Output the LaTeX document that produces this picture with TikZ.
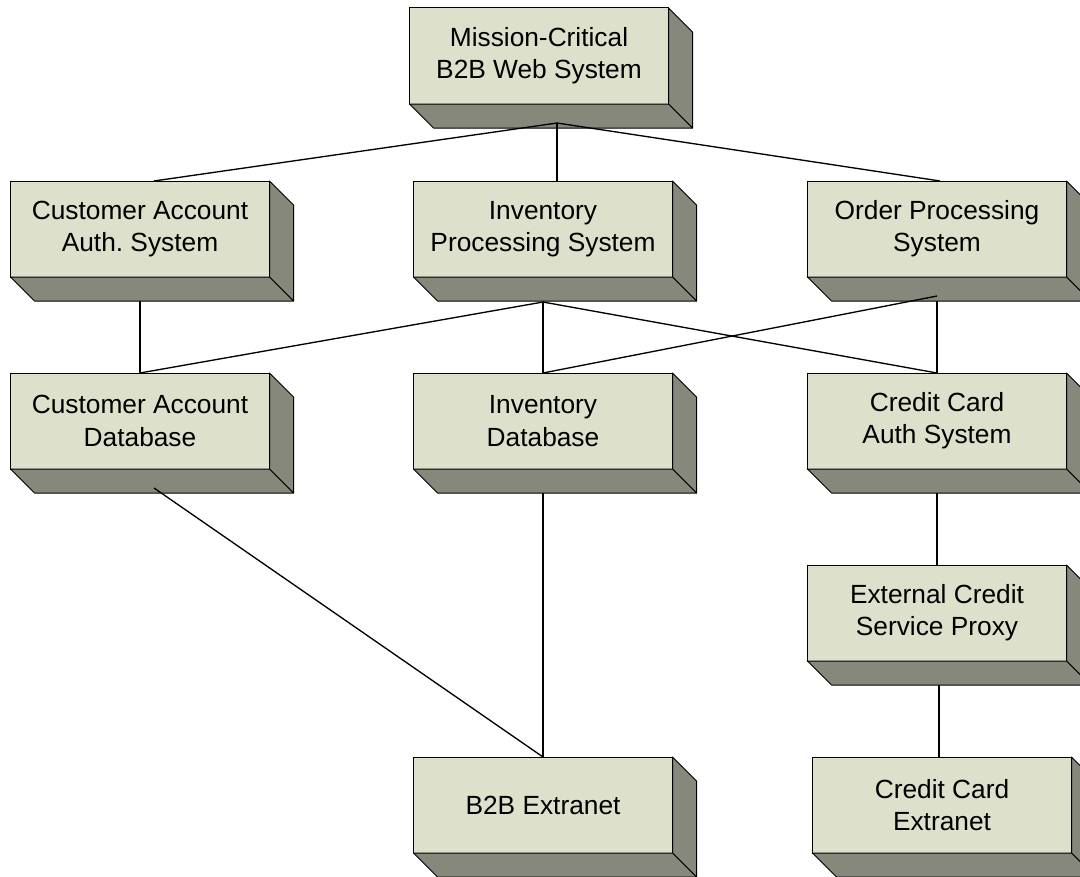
\documentclass[tikz,border=0pt]{standalone}
\usepackage{fontspec}
\setmainfont{Liberation Sans}
\usetikzlibrary{calc}

\definecolor{boxfront}{RGB}{221,224,203}
\definecolor{boxside}{RGB}{133,136,123}

\begin{document}
\begin{tikzpicture}[
            x=0.025cm, y=-0.025cm,
            every node/.style={ align=center, font=\fontsize{18.7}{23}\selectfont },
            block/.style={ draw, fill=boxfront, minimum width=6.475cm, minimum height=2.4cm,
                inner sep=0pt, outer sep=0pt, line width=0.7pt },
            side/.style={ draw, fill=boxside, line width=0.7pt, line join=round },
            link/.style={ line width=0.95pt }
        ]
        \useasboundingbox (0,0) rectangle (1080,876);

        % front faces
        \node[block] (web) at (539,56) {Mission-Critical\\B2B Web System};

        \node[block] (custauth) at (140,229) {Customer Account\\Auth.\ System};
        \node[block] (invproc) at (543,229) {Inventory\\Processing System};
        \node[block] (orderproc) at (937,229) {Order Processing\\System};

        \node[block] (custdb) at (140,421) {Customer Account\\Database};
        \node[block] (invdb) at (543,421) {Inventory\\Database};
        \node[block] (ccauth) at (937,421) {Credit Card\\Auth System};

        \node[block] (proxy) at (937,613) {External Credit\\Service Proxy};

        \node[block] (b2bext) at (543,805) {B2B Extranet};
        \node[block] (ccext) at (942,805) {Credit Card\\Extranet};

        % right and bottom faces
        \foreach \b in {web,custauth,invproc,orderproc,custdb,invdb,ccauth,proxy,b2bext,ccext} {
            \filldraw[side] (\b.north east) -- ++(24,24) -- ++(0,96) -- (\b.south east) -- cycle;
            \filldraw[side] (\b.south west) -- (\b.south east) -- ++(24,24) -- ++(-259,0) -- cycle;
        }

        % connectors
        \coordinate (webhub) at ($(web.south)+(18,19)$);
        \draw[link] (webhub) -- ($(custauth.north)+(14,0)$);
        \draw[link] (webhub) -- ($(invproc.north)+(14,0)$);
        \draw[link] (webhub) -- ($(orderproc.north)+(3,0)$);

        \draw[link] ($(custauth.south)+(0,24)$) -- (custauth.south |- custdb.north);

        \coordinate (invhub) at ($(invproc.south)+(0,25)$);
        \draw[link] (invhub) -- (custauth.south |- custdb.north);
        \draw[link] (invhub) -- (invdb.north);
        \draw[link] (invhub) -- (ccauth.north);

        \draw[link] ($(orderproc.south)+(0,19)$) -- (invdb.north);
        \draw[link] ($(orderproc.south)+(0,24)$) -- (ccauth.north);

        \draw[link] ($(custdb.south)+(14,19)$) -- (b2bext.north);
        \draw[link] ($(invdb.south)+(0,24)$) -- (b2bext.north);

        \draw[link] ($(ccauth.south)+(0,24)$) -- (proxy.north);
        \draw[link] ($(proxy.south)+(2,24)$) -- ($(ccext.north)+(-3,0)$);
    \end{tikzpicture}
\end{document}
